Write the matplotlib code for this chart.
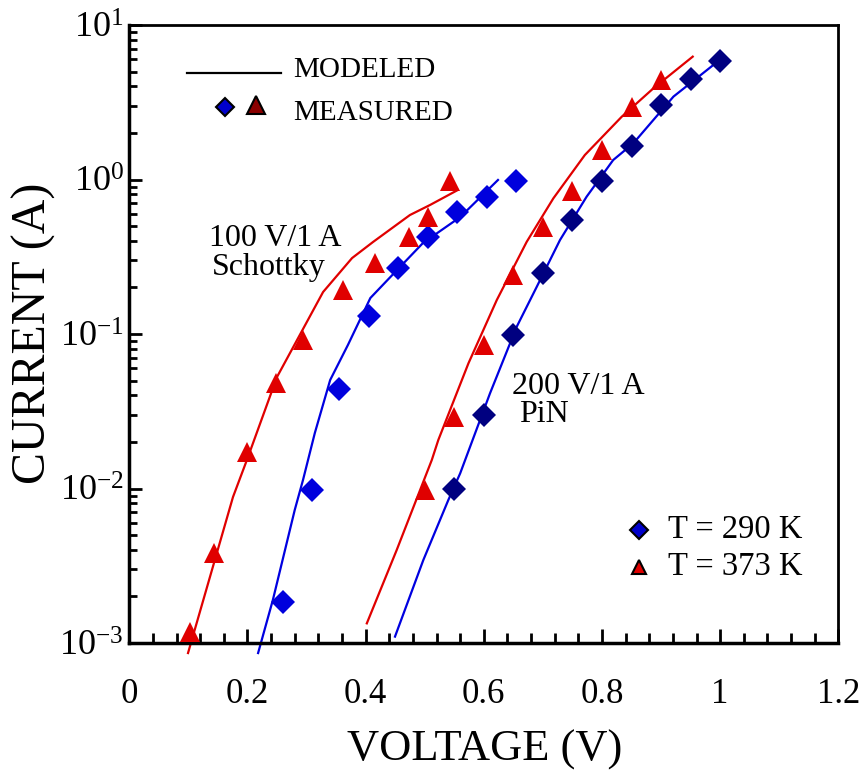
import matplotlib
matplotlib.use("Agg")
import matplotlib.pyplot as plt
from matplotlib.ticker import FixedLocator, LogLocator, NullFormatter, FixedFormatter

plt.rcParams['font.family'] = ['Liberation Serif', 'DejaVu Serif']
plt.rcParams['mathtext.fontset'] = 'custom'
plt.rcParams['mathtext.rm'] = 'Liberation Serif'
plt.rcParams['mathtext.it'] = 'Liberation Serif:italic'

# ---- data ----
# 100 V/1 A Schottky, measured
sch_v_290 = [0.26, 0.31, 0.355, 0.405, 0.455, 0.505, 0.555, 0.605, 0.655]
sch_i_290 = [1.84e-3, 9.8e-3, 0.0443, 0.131, 0.266, 0.426, 0.619, 0.774, 0.98]
sch_v_373 = [0.103, 0.143, 0.199, 0.248, 0.294, 0.361, 0.416, 0.474, 0.505, 0.542]
sch_i_373 = [1.18e-3, 3.8e-3, 0.0173, 0.0482, 0.0914, 0.193, 0.287, 0.423, 0.574, 0.98]
# 100 V/1 A Schottky, modeled
sch_mv_290 = [0.218, 0.243, 0.280, 0.294, 0.314, 0.340, 0.370, 0.408, 0.453, 0.497, 0.560, 0.624]
sch_mi_290 = [8.61e-4, 1.90e-3, 7.26e-3, 0.01135, 0.02286, 0.0504, 0.0849, 0.171, 0.259, 0.388, 0.571, 0.993]
sch_mv_373 = [0.0994, 0.1755, 0.199, 0.250, 0.328, 0.377, 0.4125, 0.475, 0.509, 0.556]
sch_mi_373 = [8.61e-4, 8.81e-3, 0.01528, 0.0527, 0.187, 0.310, 0.394, 0.589, 0.684, 0.855]

# 200 V/1 A PiN, measured
pin_v_290 = [0.55, 0.60, 0.65, 0.70, 0.75, 0.80, 0.85, 0.90, 0.95, 1.00]
pin_i_290 = [9.9e-3, 0.0299, 0.0985, 0.247, 0.547, 0.98, 1.65, 3.03, 4.45, 5.87]
pin_v_373 = [0.50, 0.55, 0.60, 0.65, 0.70, 0.75, 0.80, 0.85, 0.90]
pin_i_373 = [9.8e-3, 0.029, 0.085, 0.241, 0.49, 0.846, 1.55, 2.93, 4.41]
# 200 V/1 A PiN, modeled
pin_mv_290 = [0.4497, 0.4976, 0.540, 0.560, 0.6105, 0.6557, 0.6896, 0.729, 0.774, 0.819, 0.853, 0.921, 0.9885, 1.0]
pin_mi_290 = [1.10e-3, 3.44e-3, 8.43e-3, 0.01253, 0.0413, 0.1114, 0.202, 0.406, 0.774, 1.337, 1.714, 3.44, 5.51, 5.85]
pin_mv_373 = [0.402, 0.4526, 0.512, 0.523, 0.574, 0.622, 0.6726, 0.7177, 0.771, 0.8335, 0.887, 0.9536]
pin_mi_373 = [1.34e-3, 4.0e-3, 0.0153, 0.0206, 0.0646, 0.166, 0.395, 0.755, 1.44, 2.55, 3.89, 6.24]

x_ticks = [0, 0.2, 0.4, 0.6, 0.8, 1.0, 1.2]
x_ticklabels = ['0', '0.2', '0.4', '0.6', '0.8', '1', '1.2']
y_ticks = [1e-3, 1e-2, 1e-1, 1e0, 1e1]
y_ticklabels = ['$10^{-3}$', '$10^{-2}$', '$10^{-1}$', '$10^{0}$', '$10^{1}$']

RED = '#e00000'
BLUE = '#0000e0'
SCH_BLUE = '#0000dd'
NAVY = '#000080'

fig = plt.figure(figsize=(8.65, 7.74), dpi=100)
ax = fig.add_axes([129.3/865, 1-643/774, (838.3-129.3)/865, (643-25)/774])

ax.set_yscale('log')
ax.set_xlim(0, 1.2)
ax.set_ylim(1e-3, 1e1)

lw = 1.6
ax.plot(sch_mv_373, sch_mi_373, color=RED, lw=lw, clip_on=False, zorder=2)
ax.plot(sch_mv_290, sch_mi_290, color=BLUE, lw=lw, clip_on=False, zorder=2)
ax.plot(pin_mv_373, pin_mi_373, color=RED, lw=lw, clip_on=False, zorder=2)
ax.plot(pin_mv_290, pin_mi_290, color=BLUE, lw=lw, clip_on=False, zorder=2)

ms_d = 12.5
ms_t = 15
ax.plot(sch_v_290, sch_i_290, 'D', color=SCH_BLUE, ms=ms_d, mew=0, ls='none', clip_on=False, zorder=3)
ax.plot(sch_v_373, sch_i_373, '^', color=RED, ms=ms_t, mew=0, ls='none', clip_on=False, zorder=3)
ax.plot(pin_v_290, pin_i_290, 'D', color=NAVY, ms=ms_d, mew=0, ls='none', clip_on=False, zorder=3)
ax.plot(pin_v_373, pin_i_373, '^', color=RED, ms=ms_t, mew=0, ls='none', clip_on=False, zorder=3)

# ticks
ax.xaxis.set_major_locator(FixedLocator(x_ticks))
ax.xaxis.set_major_formatter(FixedFormatter(x_ticklabels))
ax.xaxis.set_minor_locator(FixedLocator([i*0.04 for i in range(31)]))
ax.yaxis.set_major_locator(FixedLocator(y_ticks))
ax.yaxis.set_major_formatter(FixedFormatter(y_ticklabels))
ax.yaxis.set_minor_locator(LogLocator(base=10, subs=range(2, 10)))
ax.yaxis.set_minor_formatter(NullFormatter())

ax.tick_params(axis='x', which='major', direction='in', length=10, width=2, labelsize=25, pad=25, top=False)
ax.tick_params(axis='x', which='minor', direction='in', length=7, width=2, top=False)
ax.tick_params(axis='y', which='major', direction='in', length=9, width=2, labelsize=26, pad=4, right=False)
ax.tick_params(axis='y', which='minor', direction='in', length=6, width=2, right=False)
for s in ax.spines.values():
    s.set_linewidth(2)
ax.spines['left'].set_linewidth(2.5)
ax.spines['bottom'].set_linewidth(2.5)

fig.text(485/865, 1-750/774, 'VOLTAGE (V)', fontsize=32, ha='center', va='center')
fig.text(34/865, 1-333/774, 'CURRENT (A)', fontsize=34.5, ha='center', va='center', rotation=90)

# annotations
def px(x, y):
    return ((x-129.3)/709.0, (643-y)/618.0)

ax.text(*px(275, 238), '100 V/1 A', transform=ax.transAxes, fontsize=23, ha='center', va='center')
ax.text(*px(269, 267), 'Schottky', transform=ax.transAxes, fontsize=23, ha='center', va='center')
ax.text(*px(578, 387), '200 V/1 A', transform=ax.transAxes, fontsize=23, ha='center', va='center')
ax.text(*px(519, 415), 'PiN', transform=ax.transAxes, fontsize=23, ha='left', va='center')

# top-left key
(x0, y0), (x1, _) = px(187, 73), px(281, 73)
ax.plot([x0, x1], [y0, y0], color='black', lw=1.6, transform=ax.transAxes, clip_on=False)
ax.text(*px(293, 70), 'MODELED', transform=ax.transAxes, fontsize=21, ha='left', va='center')
ax.plot(*px(225, 107), 'D', ms=9, color='#0000cc', mec='black', mew=1.5, transform=ax.transAxes)
ax.plot(*px(256, 105), '^', ms=13, color='#8b0000', mec='black', mew=1.5, transform=ax.transAxes)
ax.text(*px(293, 113), 'MEASURED', transform=ax.transAxes, fontsize=21, ha='left', va='center')

# bottom-right key
ax.plot(*px(639, 530), 'D', ms=9, color='#0000cc', mec='black', mew=1.5, transform=ax.transAxes)
ax.plot(*px(639, 567), '^', ms=10, color=RED, mec='black', mew=1.5, transform=ax.transAxes)
ax.text(*px(668, 530), 'T = 290 K', transform=ax.transAxes, fontsize=23.5, ha='left', va='center')
ax.text(*px(668, 567), 'T = 373 K', transform=ax.transAxes, fontsize=23.5, ha='left', va='center')

fig.savefig('out.png', dpi=100)
